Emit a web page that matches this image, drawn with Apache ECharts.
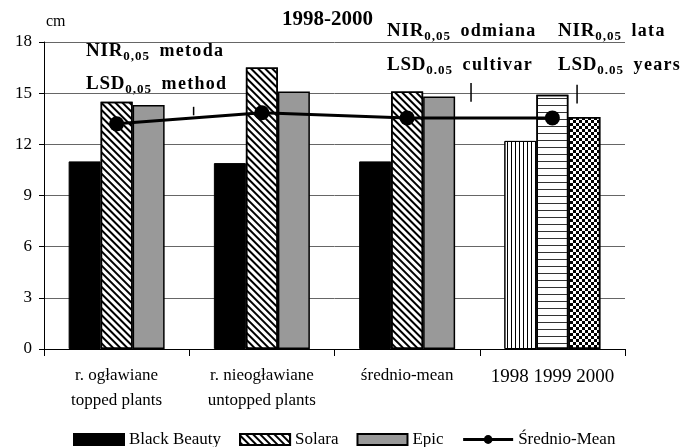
<!DOCTYPE html>
<html>
<head>
<meta charset="utf-8">
<script src="https://cdn.jsdelivr.net/npm/echarts@6/dist/echarts.min.js"></script>
<style>
html, body { margin: 0; padding: 0; background: #fff; }
#main { width: 680px; height: 447px; }
</style>
</head>
<body>
<div id="main"></div>
<script>
// dane (cm)
var categories = ['r. ogławiane\ntopped plants', 'r. nieogławiane\nuntopped plants', 'średnio-mean', '1998 1999 2000'];
var blackBeauty = [11.0, 10.9, 11.0];
var solara = [14.5, 16.5, 15.1];
var epic = [14.3, 15.1, 14.8];
var yearValues = [12.2, 14.9, 13.6]; // 1998, 1999, 2000
var meanValues = [13.2, 13.85, 13.55, 13.55];
// NIR / LSD: [pozycja na osi 0..4, dolny, gorny]
var lsdBars = [[1.03, 13.7, 14.2], [2.94, 14.5, 15.6], [3.67, 14.4, 15.5]];
var yMin = 0, yMax = 18, yStep = 3;

var serif = 'Liberation Serif';

var diagDecal = { symbol: 'rect', symbolSize: 1, dashArrayX: [1, 0], dashArrayY: [2, 2.2], rotation: Math.PI / 4, color: '#000' };
var vertDecal = { symbol: 'rect', symbolSize: 1, dashArrayX: [1, 0], dashArrayY: [1, 2.6], rotation: Math.PI / 2, color: '#000' };
var horizDecal = { symbol: 'rect', symbolSize: 1, dashArrayX: [1, 0], dashArrayY: [1, 6], color: '#333' };
var checkDecal = { symbol: 'rect', symbolSize: 1, dashArrayX: [[3, 3], [0, 3, 3, 0]], dashArrayY: [3, 0], color: '#000' };

function withYear(values, yearValue, decal) {
    var data = values.slice();
    data.push({ value: yearValue, itemStyle: { color: '#fff', decal: decal } });
    return data;
}

// rozstrzelony tekst jak w oryginale
function spaced(text, style) {
    return text.split('').map(function (c) { return '{' + style + '|' + c + '}'; }).join('');
}

function label(x, y, main, sub, word) {
    return {
        type: 'text', left: x, top: y,
        style: {
            text: spaced(main, 'm') + spaced(sub, 's') + '{g| }' + spaced(word, 'w'),
            rich: {
                m: { fontFamily: serif, fontWeight: 'bold', fontSize: 19, fill: '#000', padding: [0, 0.8, 0, 0] },
                s: { fontFamily: serif, fontWeight: 'bold', fontSize: 13, fill: '#000', padding: [10, 1, 0, 0] },
                g: { fontFamily: serif, fontSize: 18, padding: [0, 5, 0, 0] },
                w: { fontFamily: serif, fontWeight: 'bold', fontSize: 18, fill: '#000', padding: [0, 1.3, 0, 0] }
            }
        }
    };
}

var myChart = echarts.init(document.getElementById('main'));
var option = {
    animation: false,
    backgroundColor: '#fff',
    grid: { left: 44, right: 55, top: 42, bottom: 98 },
    legend: {
        left: 68, top: 426,
        itemWidth: 50, itemHeight: 11, itemGap: 18,
        textStyle: { fontFamily: serif, fontSize: 17, color: '#000' },
        data: [
            { name: 'Black Beauty', icon: 'rect' },
            { name: 'Solara', icon: 'rect' },
            { name: 'Epic', icon: 'rect' },
            { name: 'Średnio-Mean', lineStyle: { width: 3 } }
        ]
    },
    graphic: [
        { type: 'text', left: 46, top: 14, style: { text: 'cm', fontFamily: serif, fontSize: 16, fill: '#000' } },
        { type: 'text', left: 282, top: 9, style: { text: '1998-2000', fontFamily: serif, fontWeight: 'bold', fontSize: 21, fill: '#000' } },
        label(86, 42, 'NIR', '0,05', 'metoda'),
        label(86, 75, 'LSD', '0,05', 'method'),
        label(387, 22, 'NIR', '0,05', 'odmiana'),
        label(387, 56, 'LSD', '0.05', 'cultivar'),
        label(558, 22, 'NIR', '0,05', 'lata'),
        label(558, 56, 'LSD', '0.05', 'years')
    ],
    xAxis: [{
        type: 'category',
        data: categories,
        axisLine: { lineStyle: { color: '#000', width: 1 } },
        axisTick: { show: true, interval: 0, length: 7, lineStyle: { color: '#000' } },
        axisLabel: {
            interval: 0, margin: 14, color: '#000', fontFamily: serif, fontSize: 17, lineHeight: 25,
            formatter: function (v, i) { return i === 3 ? '{y|' + v + '}' : v; },
            rich: { y: { fontFamily: serif, fontSize: 19, padding: [4, 0, 0, 0] } }
        }
    }, {
        type: 'value', min: 0, max: 4, show: false
    }],
    yAxis: {
        type: 'value', min: yMin, max: yMax, interval: yStep,
        axisLine: { show: true, lineStyle: { color: '#000' } },
        axisTick: { show: true, length: 5, lineStyle: { color: '#000' } },
        axisLabel: { margin: 12, color: '#000', fontFamily: serif, fontSize: 17 },
        splitLine: { lineStyle: { color: '#666', width: 1 } }
    },
    series: [{
        name: 'Black Beauty', type: 'bar', barWidth: 32, barGap: 0,
        itemStyle: { color: '#000', borderColor: '#000', borderWidth: 1 },
        data: withYear(blackBeauty, yearValues[0], vertDecal)
    }, {
        name: 'Solara', type: 'bar', barWidth: 32, barGap: 0,
        itemStyle: { color: '#fff', borderColor: '#000', borderWidth: 1.5, decal: diagDecal },
        data: withYear(solara, yearValues[1], horizDecal)
    }, {
        name: 'Epic', type: 'bar', barWidth: 32, barGap: 0,
        itemStyle: { color: '#999', borderColor: '#000', borderWidth: 1.5 },
        data: withYear(epic, yearValues[2], checkDecal)
    }, {
        name: 'Średnio-Mean', type: 'line', z: 5,
        symbol: 'circle', symbolSize: 15,
        itemStyle: { color: '#000' },
        lineStyle: { color: '#000', width: 3 },
        data: meanValues
    }, {
        name: 'NIR', type: 'custom', xAxisIndex: 1, z: 6,
        encode: { x: 0, y: [1, 2] },
        renderItem: function (params, api) {
            var p1 = api.coord([api.value(0), api.value(1)]);
            var p2 = api.coord([api.value(0), api.value(2)]);
            return { type: 'line', shape: { x1: p1[0], y1: p1[1], x2: p2[0], y2: p2[1] }, style: { stroke: '#000', lineWidth: 1.5 } };
        },
        data: lsdBars
    }]
};
myChart.setOption(option);
</script>
</body>
</html>
